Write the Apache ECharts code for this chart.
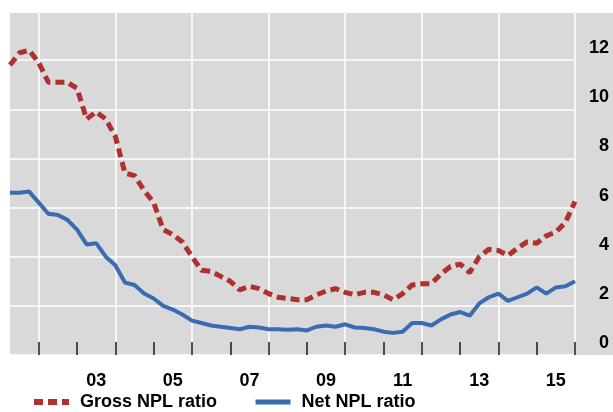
<!DOCTYPE html>
<html>
<head>
<meta charset="utf-8">
<script src="https://cdn.jsdelivr.net/npm/echarts@6/dist/echarts.min.js"></script>
<style>
  html, body { margin: 0; padding: 0; background: #fff; }
  #chart { width: 613px; height: 412px; }
</style>
</head>
<body>
<div id="chart"></div>
<script>
// quarterly, end-of-quarter points
var quarters = [
  '2001Q1', '2001Q2', '2001Q3', '2001Q4',
  '2002Q1', '2002Q2', '2002Q3', '2002Q4',
  '2003Q1', '2003Q2', '2003Q3', '2003Q4',
  '2004Q1', '2004Q2', '2004Q3', '2004Q4',
  '2005Q1', '2005Q2', '2005Q3', '2005Q4',
  '2006Q1', '2006Q2', '2006Q3', '2006Q4',
  '2007Q1', '2007Q2', '2007Q3', '2007Q4',
  '2008Q1', '2008Q2', '2008Q3', '2008Q4',
  '2009Q1', '2009Q2', '2009Q3', '2009Q4',
  '2010Q1', '2010Q2', '2010Q3', '2010Q4',
  '2011Q1', '2011Q2', '2011Q3', '2011Q4',
  '2012Q1', '2012Q2', '2012Q3', '2012Q4',
  '2013Q1', '2013Q2', '2013Q3', '2013Q4',
  '2014Q1', '2014Q2', '2014Q3', '2014Q4',
  '2015Q1', '2015Q2', '2015Q3', '2015Q4'
];

var grossNpl = [
  11.8, 12.3, 12.4, 11.9, 11.1, 11.1, 11.1, 10.85, 9.6, 9.9,
  9.6, 8.9, 7.4, 7.3, 6.7, 6.2, 5.1, 4.9, 4.6, 4.0,
  3.45, 3.4, 3.2, 3.0, 2.65, 2.8, 2.7, 2.5, 2.35, 2.3,
  2.25, 2.25, 2.45, 2.6, 2.7, 2.55, 2.45, 2.55, 2.55, 2.45,
  2.25, 2.5, 2.85, 2.9, 2.9, 3.3, 3.6, 3.7, 3.35, 4.0,
  4.3, 4.25, 4.05, 4.35, 4.6, 4.55, 4.85, 5.0, 5.4, 6.25
];

var netNpl = [
  6.6, 6.6, 6.65, 6.2, 5.75, 5.7, 5.5, 5.1, 4.5, 4.55,
  4.0, 3.65, 2.95, 2.85, 2.5, 2.3, 2.0, 1.85, 1.65, 1.4,
  1.3, 1.2, 1.15, 1.1, 1.05, 1.15, 1.12, 1.05, 1.05, 1.03,
  1.05, 1.0, 1.15, 1.2, 1.15, 1.25, 1.12, 1.1, 1.05, 0.95,
  0.9, 0.95, 1.3, 1.3, 1.2, 1.45, 1.65, 1.75, 1.6, 2.1,
  2.35, 2.5, 2.2, 2.35, 2.5, 2.75, 2.5, 2.75, 2.8, 3.0
];

var yTicks = [0, 2, 4, 6, 8, 10, 12];

var chart = echarts.init(document.getElementById('chart'));

var textFont = {
  fontFamily: '"Liberation Sans", Arial, sans-serif',
  fontWeight: 'bold',
  fontSize: 18,
  color: '#000'
};

chart.setOption({
  animation: false,
  graphic: {
    elements: [{
      type: 'rect',
      z: -10,
      silent: true,
      shape: { x: 10, y: 13, width: 603, height: 342 },
      style: { fill: '#d9d9d9' }
    }]
  },
  grid: {
    left: 10,
    right: 38,
    top: 11,
    bottom: 57
  },
  legend: {
    left: 31,
    top: 393,
    padding: 0,
    itemWidth: 35,
    itemHeight: 14,
    itemGap: 36,
    itemStyle: { opacity: 0 },
    textStyle: Object.assign({ padding: [0, 0, 0, 6] }, textFont),
    data: [
      { name: 'Gross NPL ratio', lineStyle: { width: 6, type: [9, 5] } },
      { name: 'Net NPL ratio', lineStyle: { width: 5 } }
    ]
  },
  xAxis: {
    type: 'category',
    data: quarters,
    boundaryGap: false,
    axisLine: { show: false },
    axisTick: {
      show: true,
      inside: true,
      length: 13,
      interval: function (i) { return i % 4 === 3; },
      lineStyle: { color: '#1a1a1a', width: 1.5 }
    },
    axisLabel: Object.assign({
      interval: function (i) { return i % 8 === 1 && i >= 9; },
      margin: 17,
      formatter: function (v) { return v.slice(2, 4); }
    }, textFont),
    splitLine: {
      show: true,
      interval: function (i) { return i % 8 === 3; },
      lineStyle: { color: '#fff', width: 1.5 }
    }
  },
  yAxis: {
    type: 'value',
    position: 'right',
    min: 0,
    max: 14,
    interval: 2,
    axisLine: { show: false },
    axisTick: { show: false },
    axisLabel: Object.assign({
      align: 'right',
      verticalAlign: 'bottom',
      margin: 34,
      padding: [0, 0, 3, 0],
      formatter: function (v) { return yTicks.indexOf(v) >= 0 ? String(v) : ''; }
    }, textFont),
    splitLine: { lineStyle: { color: '#fff', width: 1.5 } }
  },
  series: [{
    name: 'Gross NPL ratio',
    type: 'line',
    data: grossNpl,
    symbol: 'none',
    itemStyle: { color: '#b0302e' },
    lineStyle: { color: '#b0302e', width: 5, type: [9, 5], cap: 'butt' }
  }, {
    name: 'Net NPL ratio',
    type: 'line',
    data: netNpl,
    symbol: 'none',
    itemStyle: { color: '#3a6cb1' },
    lineStyle: { color: '#3a6cb1', width: 4 }
  }]
});
</script>
</body>
</html>
